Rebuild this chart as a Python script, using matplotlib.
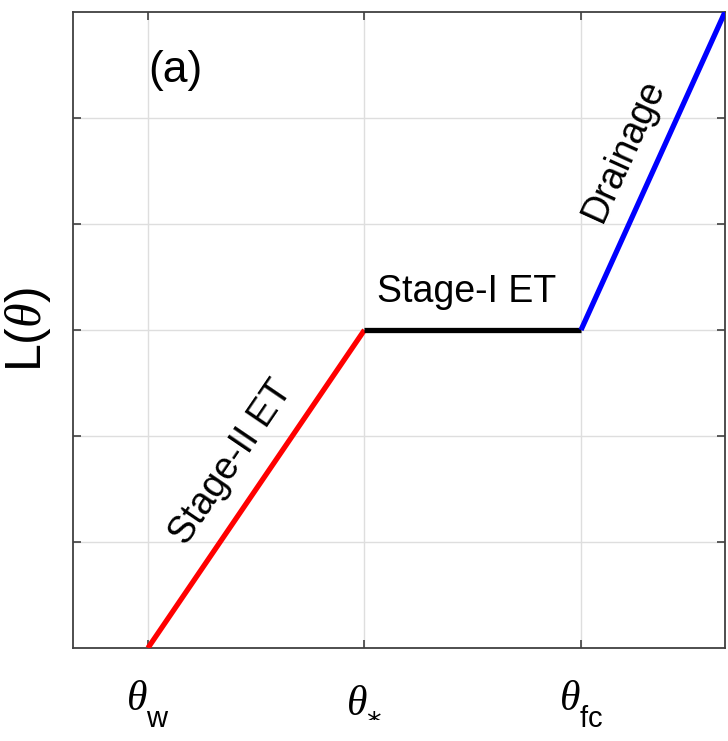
import numpy as np
import matplotlib
matplotlib.use("Agg")
import matplotlib.pyplot as plt

plt.rcParams['font.family'] = ['Liberation Sans', 'DejaVu Sans']
plt.rcParams['mathtext.fontset'] = 'custom'
plt.rcParams['mathtext.rm'] = 'Liberation Sans'
plt.rcParams['mathtext.sf'] = 'DejaVu Sans'  # has the asterisk operator glyph
plt.rcParams['mathtext.it'] = 'Liberation Serif:italic'

# drop subscripts lower, like the original tex interpreter does
try:
    from matplotlib import _mathtext
    _mathtext.FontConstantsBase.sub1 = 0.9
except Exception:
    pass

# segment end points (theta positions, loss values)
theta_ticks = [1, 2, 3]
theta_labels = [r'$\theta_{\mathrm{w}}$', r'$\theta_{\mathsf{*}}$', r'$\theta_{\mathrm{fc}}$']
stage2_x = [1, 2]
stage2_y = [0, 3]
stage1_x = [2, 3]
stage1_y = [3, 3]
drain_x = [3, 3.665]
drain_y = [3, 6]

fig = plt.figure(figsize=(7.28, 7.41), dpi=100)
ax = fig.add_axes([73/728, 1-648/741, 652/728, 636/741])

ax.plot(stage2_x, stage2_y, color='#ff0000', lw=3.8, solid_capstyle='butt', zorder=3)
ax.plot(stage1_x, stage1_y, color='black', lw=3.8, solid_capstyle='butt', zorder=3)
ax.plot(drain_x, drain_y, color='#0000ff', lw=3.8, solid_capstyle='butt', zorder=3)

ax.set_xlim(0.654, 3.665)
ax.set_ylim(0, 6)
ax.set_xticks(theta_ticks)
ax.set_xticklabels(theta_labels, fontsize=30)
ax.set_yticks([1, 2, 3, 4, 5])
ax.set_yticklabels([])
ax.grid(True, color='#dedede', lw=1)
ax.tick_params(direction='in', top=True, right=True, length=6, width=1.2,
               color='#404040')
ax.tick_params(axis='x', pad=22)
for s in ax.spines.values():
    s.set_color('#404040')
    s.set_linewidth(1.3)

ax.set_ylabel(r'L($\theta$)', fontsize=36)
ax.yaxis.set_label_coords(-0.03, 0.5)

ax.text(1.125, 5.45, '(a)', fontsize=32, ha='center', va='center')
ax.text(2.474, 3.264, 'Stage-I ET', fontsize=27, ha='center', va='baseline')
ax.text(1.384, 1.755, 'Stage-II ET', fontsize=27, ha='center', va='center',
        rotation=55.8, rotation_mode='anchor')
ax.text(3.199, 4.698, 'Drainage', fontsize=27, ha='center', va='center',
        rotation=65.6, rotation_mode='anchor')

fig.savefig('out.png', dpi=100)
